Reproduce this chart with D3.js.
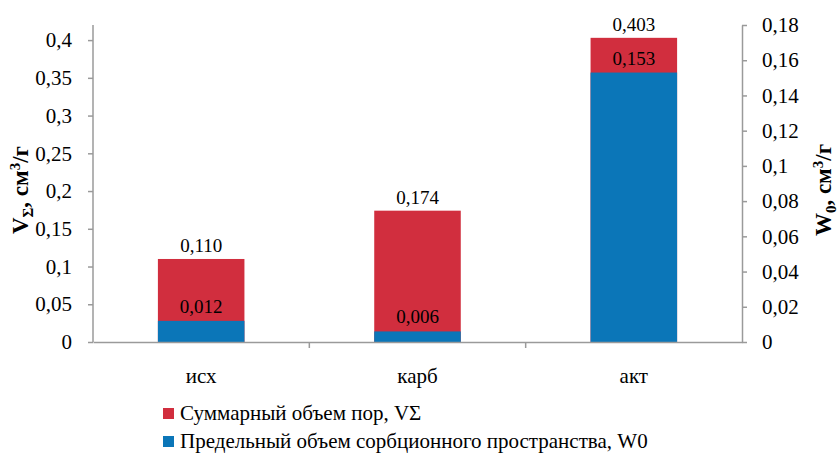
<!DOCTYPE html>
<html><head><meta charset="utf-8">
<script src="https://cdn.jsdelivr.net/npm/d3@7"></script>
<style>body{margin:0;background:#fff}</style>
</head><body>
<svg id="c" width="838" height="468" font-family="Liberation Serif"></svg>
<script>
const categories = ["исх", "карб", "акт"];
const totalVolume = [0.110, 0.174, 0.403];   // VΣ, left axis
const limitVolume = [0.012, 0.006, 0.153];   // W0, right axis
const leftTicks = [0, 0.05, 0.1, 0.15, 0.2, 0.25, 0.3, 0.35, 0.4];
const rightTicks = [0, 0.02, 0.04, 0.06, 0.08, 0.1, 0.12, 0.14, 0.16, 0.18];
const seriesNames = ["Суммарный объем пор, VΣ", "Предельный объем сорбционного пространства, W0"];
const colors = ["#D12E3E", "#0B76B8"];

const svg = d3.select("#c");
const L = 93, R = 742, T = 25, B = 342;
const font = "Liberation Serif";
const axisColor = "#9a9a9a";

const x = d3.scaleBand().domain(categories).range([L, R]).paddingInner(0.6).paddingOuter(0.3);
const yL = d3.scaleLinear().domain([0, 0.42]).range([B, T]);
const yR = d3.scaleLinear().domain([0, 0.18]).range([B, T]);
const fmtAxis = d => String(+d.toFixed(3)).replace(".", ",");
const fmt3 = d => d.toFixed(3).replace(".", ",");

// bars
svg.selectAll("rect.tot").data(categories).join("rect").attr("class","tot")
  .attr("x", d => x(d)).attr("width", x.bandwidth())
  .attr("y", (d,i) => yL(totalVolume[i])).attr("height", (d,i) => B - yL(totalVolume[i]))
  .attr("fill", colors[0]);
svg.selectAll("rect.lim").data(categories).join("rect").attr("class","lim")
  .attr("x", d => x(d)).attr("width", x.bandwidth())
  .attr("y", (d,i) => yR(limitVolume[i])).attr("height", (d,i) => B - yR(limitVolume[i]))
  .attr("fill", colors[1]);

// labels
svg.selectAll("text.tl").data(categories).join("text").attr("class","tl")
  .attr("x", d => x(d) + x.bandwidth()/2).attr("y", (d,i) => yL(totalVolume[i]) - 7)
  .attr("text-anchor","middle").attr("font-family",font).attr("font-size",19).attr("fill","#000")
  .text((d,i) => fmt3(totalVolume[i]));
svg.selectAll("text.ll").data(categories).join("text").attr("class","ll")
  .attr("x", d => x(d) + x.bandwidth()/2).attr("y", (d,i) => yR(limitVolume[i]) - 8)
  .attr("text-anchor","middle").attr("font-family",font).attr("font-size",19).attr("fill","#000")
  .text((d,i) => fmt3(limitVolume[i]));

// axes
function style(g){
  g.attr("font-family", font).attr("font-size", 21);
  g.selectAll("path,line").attr("stroke", axisColor).attr("stroke-width", 1.5);
  g.selectAll("text").attr("font-family", font).attr("font-size", 21).attr("fill", "#000");
}
svg.append("g").attr("transform",`translate(${L},0)`)
  .call(d3.axisLeft(yL).tickValues(leftTicks).tickFormat(fmtAxis).tickSize(5).tickSizeOuter(0).tickPadding(16))
  .call(style).call(g => g.select(".domain").attr("d", `M0,${T}V${B}`));
svg.append("g").attr("transform",`translate(${R},0)`)
  .call(d3.axisRight(yR).tickValues(rightTicks).tickFormat(fmtAxis).tickSize(5).tickSizeOuter(0).tickPadding(15))
  .call(style);
const xg = svg.append("g").attr("transform",`translate(0,${B})`)
  .call(d3.axisBottom(x).tickSize(0).tickPadding(20)).call(style);
xg.selectAll(".tick text").attr("dy", "1em");
// category boundary ticks
const bounds = categories.slice(1).map(c => x(c) - x.step()*x.paddingInner()/2);
xg.selectAll("line.b").data(bounds).join("line").attr("class","b")
  .attr("x1", d => d).attr("x2", d => d).attr("y1", 0).attr("y2", 6)
  .attr("stroke", axisColor).attr("stroke-width", 1.5);

// axis titles
const lt = svg.append("text").attr("transform","translate(28,190) rotate(-90)")
  .attr("text-anchor","middle").attr("font-family",font).attr("font-size",23).attr("font-weight","bold");
lt.append("tspan").text("V");
lt.append("tspan").attr("font-size",15).attr("dy",5).text("Σ");
lt.append("tspan").attr("dy",-5).text(", см");
lt.append("tspan").attr("font-size",15).attr("dy",-8).text("3");
lt.append("tspan").attr("dy",8).text("/г");
const rt = svg.append("text").attr("transform","translate(831,190) rotate(-90)")
  .attr("text-anchor","middle").attr("font-family",font).attr("font-size",23).attr("font-weight","bold");
rt.append("tspan").text("W");
rt.append("tspan").attr("font-size",15).attr("dy",5).text("0");
rt.append("tspan").attr("dy",-5).text(", см");
rt.append("tspan").attr("font-size",15).attr("dy",-8).text("3");
rt.append("tspan").attr("dy",8).text("/г");

// legend
const lg = svg.selectAll("g.lg").data(seriesNames).join("g").attr("class","lg")
  .attr("transform", (d,i) => `translate(163,${408 + i*28})`);
lg.append("rect").attr("width",11).attr("height",11).attr("fill",(d,i)=>colors[i]);
lg.append("text").attr("x",17).attr("y",12).attr("font-family",font).attr("font-size",21).attr("fill","#000").text(d=>d);
</script>
</body></html>
